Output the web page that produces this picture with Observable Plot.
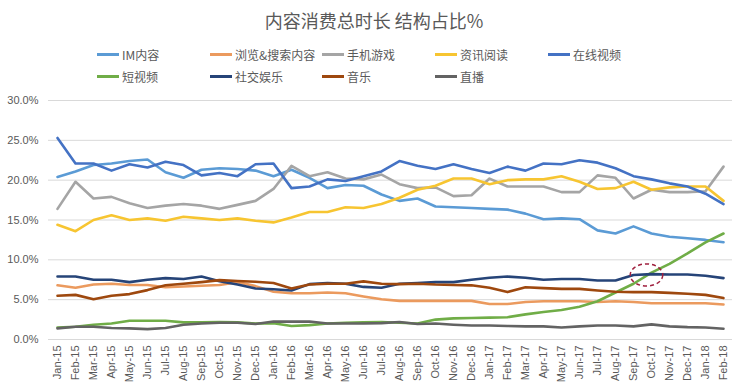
<!DOCTYPE html>
<html>
<head>
<meta charset="utf-8">
<script src="https://cdn.jsdelivr.net/npm/d3@7"></script>
<script src="https://cdn.jsdelivr.net/npm/@observablehq/plot@0.6"></script>
<style>
  html, body { margin: 0; padding: 0; background: #fff; }
  #wrap { position: relative; width: 748px; height: 391px; overflow: hidden;
          font-family: "Liberation Sans", "Noto Sans CJK SC", sans-serif; color: #595959; }
  #title { position: absolute; left: 0; top: 8px; width: 748px; text-align: center;
           font-family: "Noto Sans CJK SC", sans-serif; font-size: 18px; line-height: 24px; color: #595959; }
  .legrow { position: absolute; left: 0; height: 18px; }
  .item { position: absolute; top: 0; height: 18px; display: flex; align-items: center;
          font-family: "Noto Sans CJK SC", sans-serif; font-size: 12px; color: #595959; white-space: nowrap; }
  .sw { display: inline-block; width: 22px; height: 3px; margin-right: 3px; }
  #chart { position: absolute; left: 0; top: 88px; }
</style>
</head>
<body>
<div id="wrap">
  <div id="title"></div>
  <div class="legrow" id="leg1" style="top:45px"></div>
  <div class="legrow" id="leg2" style="top:67px"></div>
  <div id="chart"></div>
</div>
<script>
const title = "内容消费总时长 结构占比%";
const months = ["Jan-15","Feb-15","Mar-15","Apr-15","May-15","Jun-15","Jul-15","Aug-15","Sep-15","Oct-15","Nov-15","Dec-15",
  "Jan-16","Feb-16","Mar-16","Apr-16","May-16","Jun-16","Jul-16","Aug-16","Sep-16","Oct-16","Nov-16","Dec-16",
  "Jan-17","Feb-17","Mar-17","Apr-17","May-17","Jun-17","Jul-17","Aug-17","Sep-17","Oct-17","Nov-17","Dec-17",
  "Jan-18","Feb-18"];
const seriesNames = ["IM内容","浏览&搜索内容","手机游戏","资讯阅读","在线视频","短视频","社交娱乐","音乐","直播"];
const seriesColors = ["#5b9bd5","#eb9a5e","#a5a5a5","#f7c531","#4472c4","#70ad47","#264478","#9e480e","#636363"];

const imContent = [20.4,21.1,21.9,22.1,22.4,22.6,21.0,20.3,21.3,21.5, 21.4,21.2,20.5,21.3,20.3,19.0,19.4,19.3,18.2,17.4, 17.7,16.7,16.6,16.5,16.4,16.3,15.8,15.1,15.2,15.1, 13.7,13.3,14.2,13.3,12.9,12.7,12.5,12.2];
const browseSearch = [6.8,6.5,6.9,7.0,6.85,6.85,6.55,6.65,6.75,6.85, 7.2,6.7,6.0,5.8,5.8,5.9,5.8,5.4,5.05,4.85, 4.85,4.85,4.85,4.85,4.45,4.45,4.7,4.8,4.8,4.8, 4.7,4.8,4.7,4.55,4.55,4.55,4.55,4.4];
const mobileGames = [16.4,19.8,17.7,17.9,17.1,16.5,16.8,17.0,16.8,16.4, 16.9,17.4,18.9,21.8,20.5,21.0,20.2,20.1,20.7,19.5, 19.0,19.1,18.0,18.1,20.2,19.2,19.2,19.2,18.5,18.5, 20.6,20.3,17.7,18.8,18.5,18.5,18.6,21.7];
const newsReading = [14.4,13.6,15.0,15.6,15.0,15.2,14.9,15.4,15.2,15.0, 15.2,14.9,14.7,15.3,16.0,16.0,16.6,16.5,17.0,17.8, 18.8,19.3,20.2,20.2,19.5,20.0,20.1,20.1,20.5,19.8, 18.9,19.0,19.8,18.8,19.1,19.2,19.2,17.4];
const onlineVideo = [25.3,22.1,22.1,21.2,22.0,21.6,22.3,21.9,20.6,20.9, 20.5,22.0,22.1,19.0,19.2,20.1,19.9,20.5,21.1,22.4, 21.8,21.4,22.0,21.4,20.9,21.7,21.2,22.1,22.0,22.5, 22.2,21.5,20.5,20.1,19.6,19.2,18.3,17.0];
const shortVideo = [1.5,1.6,1.85,2.0,2.35,2.35,2.35,2.15,2.15,2.2, 2.15,2.0,2.05,1.7,1.8,2.0,2.1,2.15,2.2,2.1, 2.0,2.5,2.65,2.7,2.75,2.8,3.15,3.45,3.7,4.1, 4.8,5.9,7.0,8.4,9.5,10.8,12.2,13.3];
const socialEnt = [7.9,7.9,7.5,7.5,7.2,7.5,7.7,7.6,7.9,7.3, 6.9,6.4,6.3,6.15,6.95,7.1,7.0,6.6,6.5,7.0, 7.1,7.2,7.2,7.5,7.75,7.9,7.75,7.5,7.6,7.6, 7.4,7.4,8.1,8.2,8.15,8.15,8.0,7.7];
const music = [5.5,5.6,5.05,5.5,5.7,6.2,6.8,7.0,7.2,7.45, 7.35,7.25,7.1,6.4,6.9,7.0,7.0,7.3,7.0,6.95, 7.0,6.9,6.85,6.8,6.5,5.95,6.55,6.45,6.35,6.35, 6.15,6.0,5.95,5.95,5.85,5.75,5.6,5.2];
const liveStream = [1.4,1.6,1.6,1.45,1.4,1.3,1.45,1.85,2.0,2.1, 2.1,1.95,2.25,2.25,2.25,2.0,2.0,2.0,2.05,2.2, 1.95,2.0,1.85,1.75,1.75,1.7,1.65,1.65,1.5,1.65, 1.75,1.75,1.65,1.9,1.65,1.55,1.5,1.35];
const yTicks = [0,5,10,15,20,25,30];
const annotation = [{month: "Oct-17", value: 8.1}];

const allSeries = [imContent, browseSearch, mobileGames, newsReading, onlineVideo, shortVideo, socialEnt, music, liveStream];
const rows = [];
seriesNames.forEach((name, s) => {
  months.forEach((m, i) => rows.push({series: name, month: m, value: allSeries[s][i]}));
});

document.getElementById("title").textContent = title;
const legendRows = [seriesNames.slice(0,5), seriesNames.slice(5)];
const legendX = [97, 210, 322, 435, 548];
legendRows.forEach((names, r) => {
  const row = document.getElementById(r === 0 ? "leg1" : "leg2");
  names.forEach((n, j) => {
    const it = document.createElement("div");
    it.className = "item";
    it.style.left = legendX[j] + "px";
    const sw = document.createElement("span");
    sw.className = "sw";
    sw.style.background = seriesColors[seriesNames.indexOf(n)];
    it.appendChild(sw);
    it.appendChild(document.createTextNode(n));
    row.appendChild(it);
  });
});

const ellipseSymbol = {
  draw(ctx, size) {
    const r = Math.sqrt(size / Math.PI);
    const rx = r * 1.25, ry = r * 0.85, k = 0.5523;
    ctx.moveTo(rx, 0);
    ctx.bezierCurveTo(rx, ry * k, rx * k, ry, 0, ry);
    ctx.bezierCurveTo(-rx * k, ry, -rx, ry * k, -rx, 0);
    ctx.bezierCurveTo(-rx, -ry * k, -rx * k, -ry, 0, -ry);
    ctx.bezierCurveTo(rx * k, -ry, rx, -ry * k, rx, 0);
    ctx.closePath();
  }
};

const plot = Plot.plot({
  width: 748,
  height: 303,
  marginTop: 12,
  marginBottom: 52,
  marginLeft: 48,
  marginRight: 16,
  style: {fontFamily: "'Liberation Sans', 'Noto Sans CJK SC', sans-serif", color: "#595959", background: "transparent"},
  x: {type: "point", domain: months, padding: 0.5},
  y: {domain: [0, 30]},
  color: {domain: seriesNames, range: seriesColors},
  marks: [
    Plot.gridY(yTicks, {stroke: "#d9d9d9", strokeOpacity: 1, strokeWidth: 1}),
    Plot.axisY(yTicks, {tickSize: 0, tickPadding: 10, fontSize: 11, tickFormat: d => d.toFixed(1) + "%", label: null}),
    Plot.axisX({tickRotate: -90, tickSize: 0, tickPadding: 6, fontSize: 11, label: null}),
    Plot.line(rows, {x: "month", y: "value", z: "series", stroke: "series", strokeWidth: 2.6, curve: "linear"}),
    Plot.dot(annotation, {x: "month", y: "value", dx: -5, r: 13, symbol: ellipseSymbol, stroke: "#a0213f", fill: "none", strokeWidth: 1.5, strokeDasharray: "4,3"})
  ]
});
document.getElementById("chart").appendChild(plot);
</script>
</body>
</html>
